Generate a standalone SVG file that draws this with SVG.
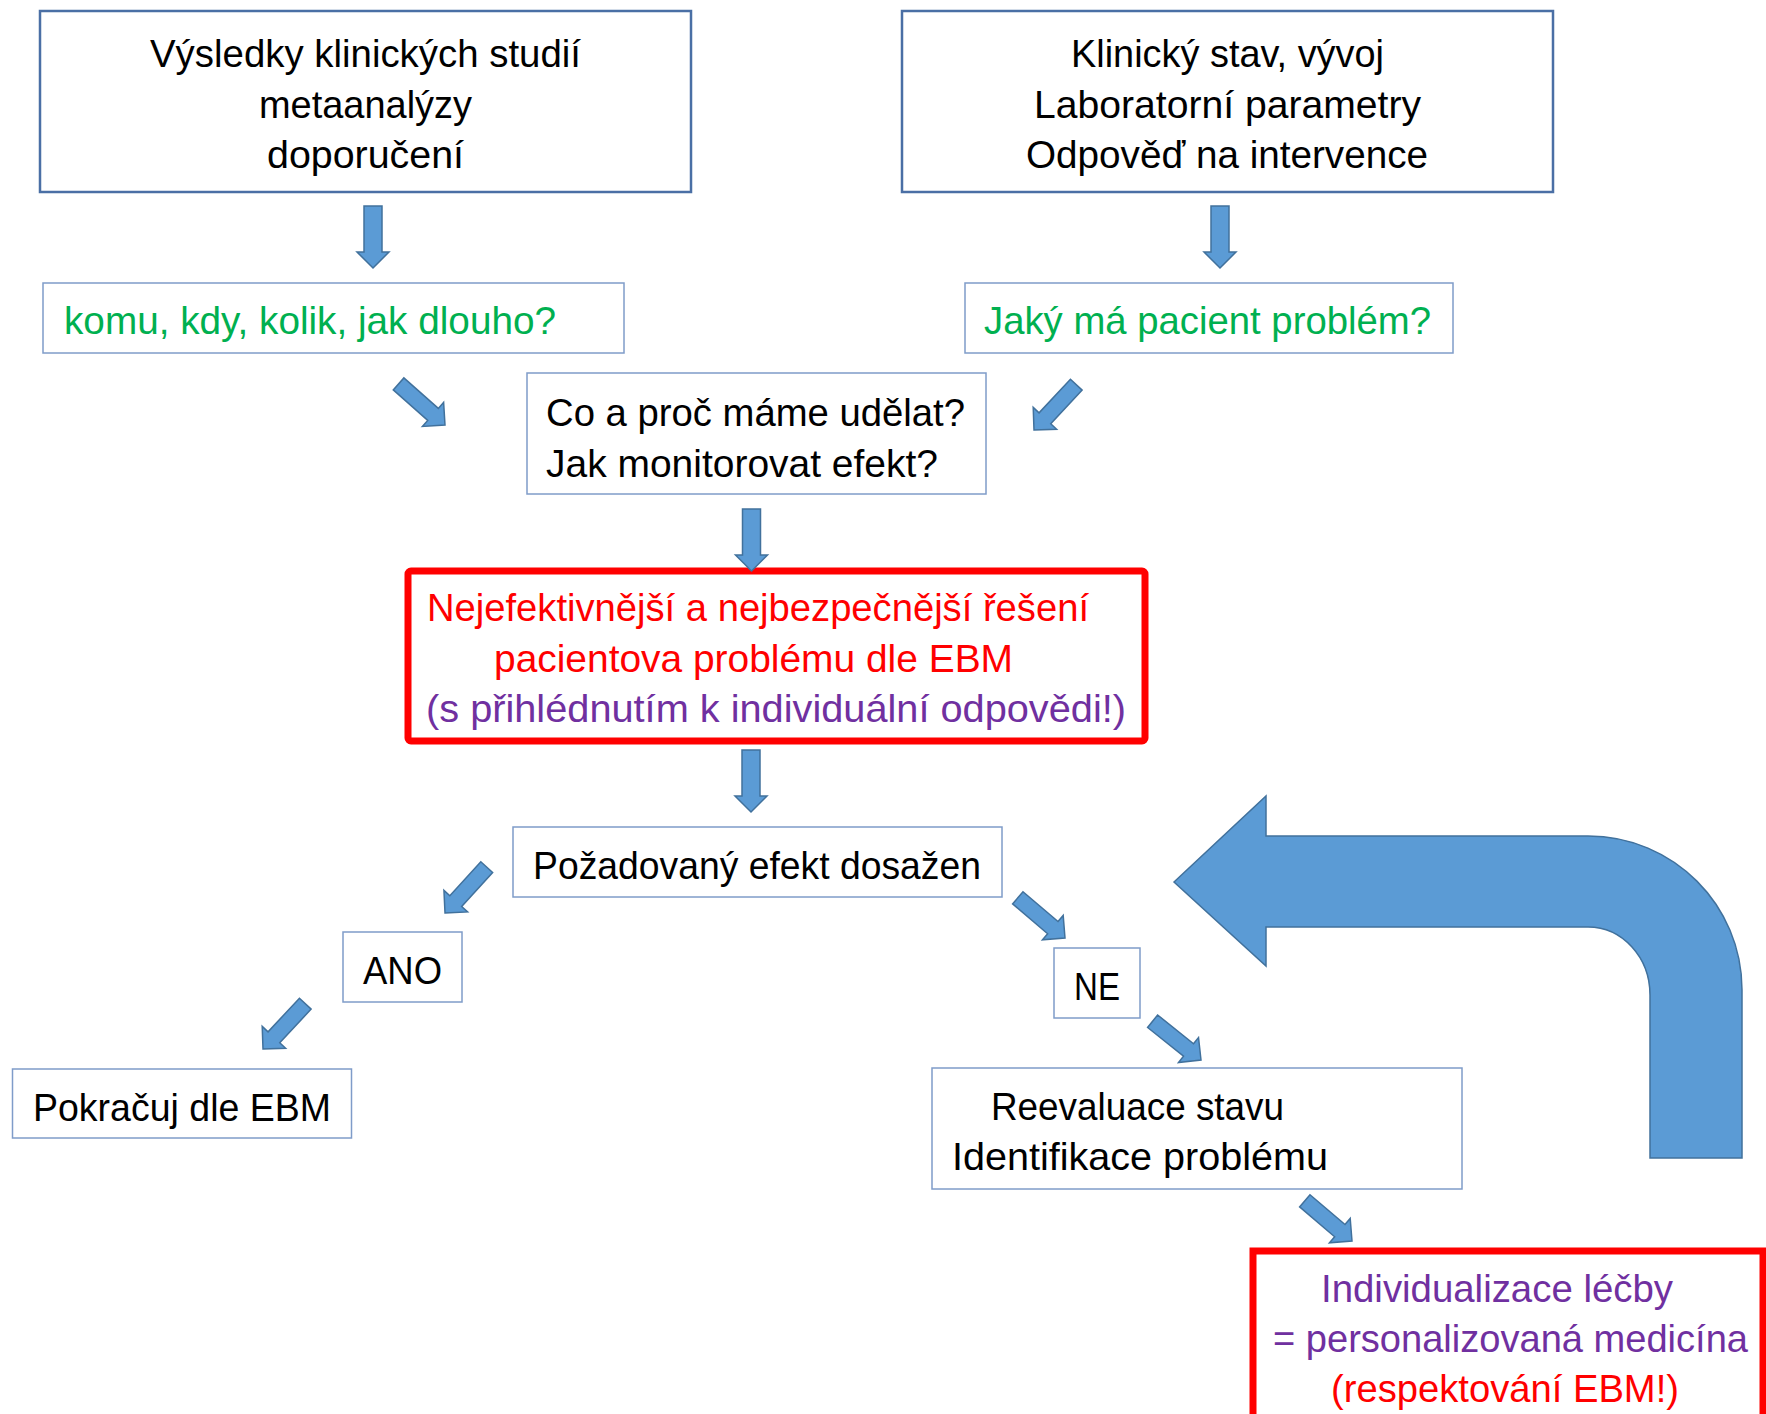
<svg xmlns="http://www.w3.org/2000/svg" xmlns:xlink="http://www.w3.org/1999/xlink" width="1766" height="1414" viewBox="0 0 1766 1414">
<style>
text{font-family:"Liberation Sans",Arial,sans-serif;font-size:39.5px;fill:#000}
.g{fill:#00B050}.r{fill:#FF0000}.p{fill:#7030A0}
.bt{fill:#fff;stroke:#4A6FA5;stroke-width:2.5}
.bn{fill:#fff;stroke:#7F9CC9;stroke-width:1.5}
.rb{fill:#fff;stroke:#FF0000;stroke-width:7}
.ar{fill:#5B9BD5;stroke:#41719C;stroke-width:1.5}
</style>
<defs>
<path id="av" d="M0,0 L-16,-16 L-16,-9 L-62,-9 L-62,9 L-16,9 L-16,16 Z"/>
<path id="ad" d="M0,0 L-16,-16 L-16,-8 L-62,-8 L-62,8 L-16,8 L-16,16 Z"/>
</defs>
<rect width="1766" height="1414" fill="#fff"/>
<g id="n1"><rect class="bt" x="40" y="11" width="651" height="181"/>
<text x="150" y="67" textLength="431" lengthAdjust="spacingAndGlyphs">Výsledky klinických studií</text>
<text x="259" y="118" textLength="213" lengthAdjust="spacingAndGlyphs">metaanalýzy</text>
<text x="267" y="168" textLength="197" lengthAdjust="spacingAndGlyphs">doporučení</text></g>
<g id="n2"><rect class="bt" x="902" y="11" width="651" height="181"/>
<text x="1071" y="67" textLength="313" lengthAdjust="spacingAndGlyphs">Klinický stav, vývoj</text>
<text x="1034" y="118" textLength="387" lengthAdjust="spacingAndGlyphs">Laboratorní parametry</text>
<text x="1026" y="168" textLength="402" lengthAdjust="spacingAndGlyphs">Odpověď na intervence</text></g>
<g id="n3"><rect class="bn" x="43" y="283" width="581" height="70"/>
<text class="g" x="64" y="334" textLength="492" lengthAdjust="spacingAndGlyphs">komu, kdy, kolik, jak dlouho?</text></g>
<g id="n4"><rect class="bn" x="965" y="283" width="488" height="70"/>
<text class="g" x="984" y="334" textLength="447" lengthAdjust="spacingAndGlyphs">Jaký má pacient problém?</text></g>
<g id="n5"><rect class="bn" x="527" y="373" width="459" height="121"/>
<text x="546" y="426" textLength="419" lengthAdjust="spacingAndGlyphs">Co a proč máme udělat?</text>
<text x="546" y="477" textLength="392" lengthAdjust="spacingAndGlyphs">Jak monitorovat efekt?</text></g>
<g id="n6"><rect class="rb" x="408" y="571" width="737" height="170" rx="3"/>
<text class="r" x="427" y="621" textLength="662" lengthAdjust="spacingAndGlyphs">Nejefektivnější a nejbezpečnější řešení</text>
<text class="r" x="494" y="672" textLength="519" lengthAdjust="spacingAndGlyphs">pacientova problému dle EBM</text>
<text class="p" x="426" y="722" textLength="700" lengthAdjust="spacingAndGlyphs">(s přihlédnutím k individuální odpovědi!)</text></g>
<g id="n7"><rect class="bn" x="513" y="827" width="489" height="70"/>
<text x="533" y="879" textLength="448" lengthAdjust="spacingAndGlyphs">Požadovaný efekt dosažen</text></g>
<g id="n8"><rect class="bn" x="343" y="932" width="119" height="70"/>
<text x="363" y="984" textLength="79" lengthAdjust="spacingAndGlyphs">ANO</text></g>
<g id="n9"><rect class="bn" x="1054" y="948" width="86" height="70"/>
<text x="1074" y="1000" textLength="46" lengthAdjust="spacingAndGlyphs">NE</text></g>
<g id="n10"><rect class="bn" x="12.5" y="1069" width="339" height="69"/>
<text x="33" y="1121" textLength="298" lengthAdjust="spacingAndGlyphs">Pokračuj dle EBM</text></g>
<g id="n11"><rect class="bn" x="932" y="1068" width="530" height="121"/>
<text x="991" y="1120" textLength="293" lengthAdjust="spacingAndGlyphs">Reevaluace stavu</text>
<text x="952" y="1170" textLength="376" lengthAdjust="spacingAndGlyphs">Identifikace problému</text></g>
<g id="n12"><rect class="rb" x="1253" y="1251" width="510" height="220"/>
<text class="p" x="1321" y="1302" textLength="352" lengthAdjust="spacingAndGlyphs">Individualizace léčby</text>
<text class="p" x="1273" y="1352" textLength="475" lengthAdjust="spacingAndGlyphs">= personalizovaná medicína</text>
<text class="r" x="1331" y="1402" textLength="348" lengthAdjust="spacingAndGlyphs">(respektování EBM!)</text></g>
<g id="connectors">
<use href="#av" class="ar" transform="translate(373,268) rotate(90)"/>
<use href="#av" class="ar" transform="translate(1220,268) rotate(90)"/>
<use href="#ad" class="ar" transform="translate(445,425) rotate(41.5)"/>
<use href="#ad" class="ar" transform="translate(1034,430) rotate(133)"/>
<use href="#av" class="ar" transform="translate(751.5,571) rotate(90)"/>
<use href="#av" class="ar" transform="translate(751,812) rotate(90)"/>
<use href="#ad" class="ar" transform="translate(445,913) rotate(132.3)"/>
<use href="#ad" class="ar" transform="translate(263,1049) rotate(133)"/>
<use href="#ad" class="ar" transform="translate(1065,938) rotate(40.4)"/>
<use href="#ad" class="ar" transform="translate(1201,1060) rotate(38.7)"/>
<use href="#ad" class="ar" transform="translate(1352,1241) rotate(40.4)"/>
<path class="ar" stroke-width="2" d="M1174,882 L1266,796 L1266,836 L1588,836 C1673,836 1742,905 1742,990 L1742,1158 L1650,1158 L1650,995 C1650,957 1622,927 1588,927 L1266,927 L1266,966 Z"/>
</g>
</svg>
